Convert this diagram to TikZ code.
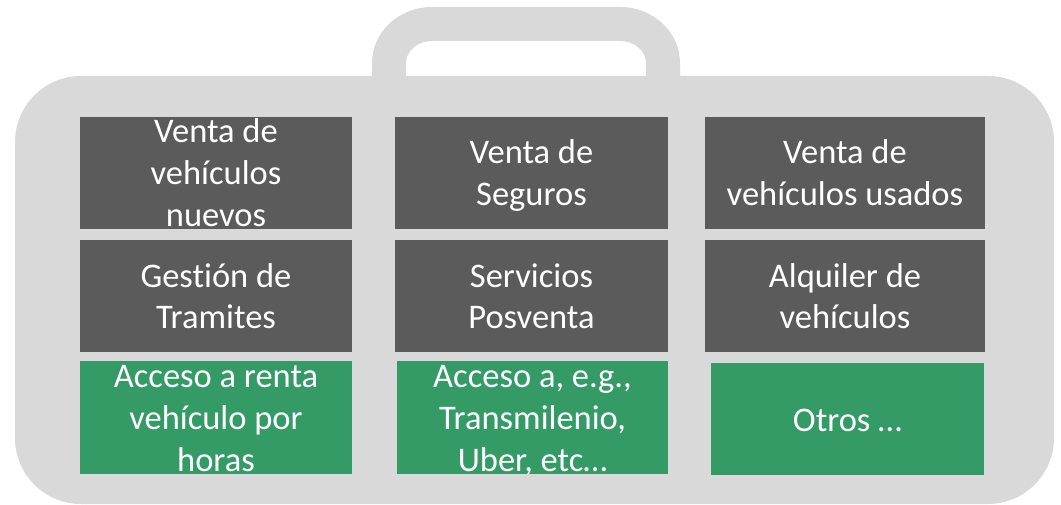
\documentclass[tikz,border=0pt]{standalone}
\usepackage{fontspec}
\setmainfont{Carlito}[Ligatures=NoCommon]
\definecolor{bodygray}{HTML}{D9D9D9}
\definecolor{darkbox}{HTML}{5A5B5A}
\definecolor{greenbox}{HTML}{349B66}
\newcommand\lnst{\rule[-6pt]{0pt}{36pt}}
\tikzset{
  cell/.style={inner sep=0pt, outer sep=0pt},
  darkcell/.style={cell, fill=darkbox},
  greencell/.style={cell, fill=greenbox},
  celltext/.style={inner sep=0pt, text=white, align=center,
    font=\fontsize{34.5}{42}\selectfont},
}
\begin{document}
\begin{tikzpicture}[x=1pt,y=-1pt]
\useasboundingbox (0,0) rectangle (1061,505);
% handle
\fill[bodygray]
  (372,82) -- (372,63)
  arc[start angle=180, end angle=270, x radius=60, y radius=56]
  -- (620,7)
  arc[start angle=270, end angle=360, x radius=60, y radius=56]
  -- (680,82) -- (646,82) -- (646,63)
  arc[start angle=0, end angle=-90, x radius=26, y radius=22]
  -- (432,41)
  arc[start angle=-90, end angle=-180, x radius=26, y radius=22]
  -- (406,82) -- cycle;
% body
\fill[bodygray, rounded corners=66pt] (15,76) rectangle (1054,504);
% row 1
\node[darkcell, minimum width=272pt, minimum height=112pt] (b11) at (216,173) {};
\node[celltext] (t11) at (b11.center) {\lnst Venta de\\\lnst vehículos\\\lnst nuevos};
\node[darkcell, minimum width=273pt, minimum height=112pt] (b12) at (531.5,173) {};
\node[celltext] (t12) at (b12.center) {\lnst Venta de\\\lnst Seguros};
\node[darkcell, minimum width=280pt, minimum height=112pt] (b13) at (845,173) {};
\node[celltext] (t13) at (b13.center) {\lnst Venta de\\\lnst vehículos usados};
% row 2
\node[darkcell, minimum width=272pt, minimum height=112pt] (b21) at (216,296) {};
\node[celltext] (t21) at (b21.center) {\lnst Gestión de\\\lnst Tramites};
\node[darkcell, minimum width=273pt, minimum height=112pt] (b22) at (531.5,296) {};
\node[celltext] (t22) at (b22.center) {\lnst Servicios\\\lnst Posventa};
\node[darkcell, minimum width=280pt, minimum height=112pt] (b23) at (845,296) {};
\node[celltext] (t23) at (b23.center) {\lnst Alquiler de\\\lnst vehículos};
% row 3
\node[greencell, minimum width=272pt, minimum height=113pt] (b31) at (216,417.5) {};
\node[celltext] (t31) at (b31.center) {\lnst Acceso a renta\\\lnst vehículo por\\\lnst horas};
\node[greencell, minimum width=271pt, minimum height=113pt] (b32) at (532.5,417.5) {};
\node[celltext] (t32) at (b32.center) {\lnst Acceso a, e.g.,\\\lnst Transmilenio,\\\lnst Uber, etc…};
\node[greencell, minimum width=273pt, minimum height=112pt] (b33) at (847.5,419) {};
\node[celltext] (t33) at (b33.center) {\lnst Otros …};
\end{tikzpicture}
\end{document}
